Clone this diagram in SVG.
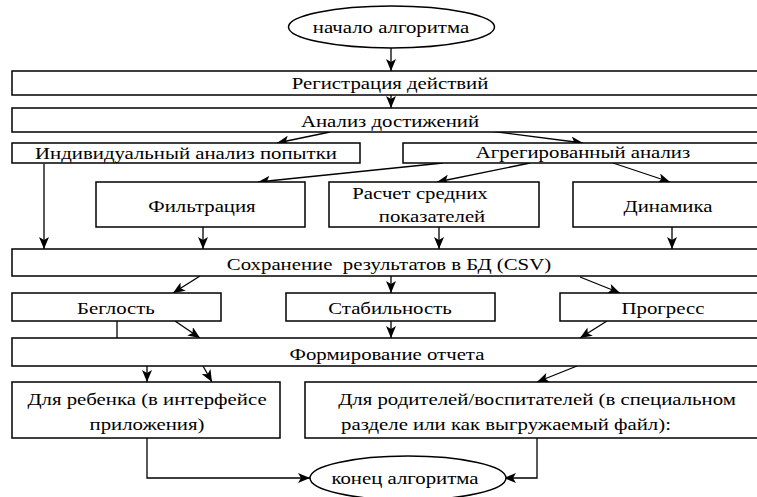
<svg xmlns="http://www.w3.org/2000/svg" width="757" height="497" viewBox="0 0 757 497">
<defs>
<marker id="ah" viewBox="0 0 12 10" refX="12" refY="5" markerWidth="12" markerHeight="10" markerUnits="userSpaceOnUse" orient="auto">
<path d="M0,0 L12,5 L0,10 L3,5 Z" fill="#000"/>
</marker>
<style>
rect, ellipse { fill: #fff; stroke: #000; stroke-width: 1.5; }
text { fill: #000; text-anchor: middle; }
.c { fill: none; stroke: #000; stroke-width: 1.3; }
.a { marker-end: url(#ah); }
</style>
</defs>
<rect x="0" y="0" width="757" height="497" style="fill:#fff;stroke:none"/>
<g id="connectors">
<line class="c a" x1="391" y1="48" x2="391" y2="71"/>
<line class="c a" x1="391" y1="95" x2="391" y2="108"/>
<line class="c a" x1="330" y1="132" x2="277" y2="143"/>
<line class="c a" x1="490" y1="131" x2="583" y2="143"/>
<line class="c a" x1="44" y1="164" x2="44" y2="249"/>
<line class="c a" x1="443" y1="163" x2="258" y2="182"/>
<line class="c a" x1="530" y1="163" x2="437" y2="182"/>
<line class="c a" x1="613" y1="163" x2="670" y2="182"/>
<line class="c a" x1="203" y1="227" x2="203" y2="249"/>
<line class="c a" x1="439" y1="227" x2="439" y2="249"/>
<line class="c a" x1="672" y1="227" x2="672" y2="249"/>
<line class="c a" x1="200" y1="276" x2="173" y2="293"/>
<line class="c a" x1="391" y1="276" x2="391" y2="293"/>
<line class="c a" x1="580" y1="277" x2="620" y2="293"/>
<line class="c" x1="117" y1="321" x2="117" y2="338"/>
<line class="c a" x1="175" y1="321" x2="200" y2="338"/>
<line class="c a" x1="391" y1="321" x2="391" y2="338"/>
<line class="c a" x1="607" y1="321" x2="580" y2="338"/>
<line class="c a" x1="147" y1="366" x2="147" y2="382"/>
<line class="c a" x1="203" y1="366" x2="212" y2="382"/>
<line class="c a" x1="577" y1="366" x2="537" y2="382"/>
<polyline class="c a" points="147,438 147,478 310,478"/>
<polyline class="c a" points="537,438 537,478 504,478"/>
</g>
<g id="start"><ellipse cx="391.5" cy="27" rx="103" ry="21"/><text font-family="Liberation Serif" font-size="16" transform="scale(1.3,1)" x="300.77" y="33">начало алгоритма</text></g>
<g id="reg"><rect x="12" y="71" width="760" height="24"/><text font-family="Liberation Serif" font-size="16" transform="scale(1.3,1)" x="300" y="89">Регистрация действий</text></g>
<g id="analiz"><rect x="12" y="108" width="760" height="24"/><text font-family="Liberation Serif" font-size="16" transform="scale(1.3,1)" x="300" y="127">Анализ достижений</text></g>
<g id="individ"><rect x="12" y="143" width="348" height="20"/><text font-family="Liberation Serif" font-size="16" transform="scale(1.3,1)" x="143.08" y="159">Индивидуальный анализ попытки</text></g>
<g id="agreg"><rect x="403" y="143" width="370" height="20"/><text font-family="Liberation Serif" font-size="16" transform="scale(1.3,1)" x="448.46" y="158">Агрегированный анализ</text></g>
<g id="filtr"><rect x="96" y="182" width="209" height="45"/><text font-family="Liberation Serif" font-size="16" transform="scale(1.3,1)" x="155.38" y="212">Фильтрация</text></g>
<g id="raschet"><rect x="329" y="182" width="210" height="45"/><text font-family="Liberation Serif" font-size="16" transform="scale(1.3,1)" x="323.08" y="199">Расчет средних</text><text font-family="Liberation Serif" font-size="16" transform="scale(1.3,1)" x="332.31" y="222">показателей</text></g>
<g id="dinamika"><rect x="573" y="182" width="200" height="45"/><text font-family="Liberation Serif" font-size="16" transform="scale(1.3,1)" x="513.85" y="212">Динамика</text></g>
<g id="save"><rect x="12" y="249" width="760" height="27"/><text font-family="Liberation Serif" font-size="16" transform="scale(1.3,1)" x="299.23" y="270" xml:space="preserve">Сохранение  результатов в БД (CSV)</text></g>
<g id="beglost"><rect x="12" y="293" width="209" height="28"/><text font-family="Liberation Serif" font-size="16" transform="scale(1.3,1)" x="89.23" y="314">Беглость</text></g>
<g id="stabil"><rect x="286" y="293" width="209" height="28"/><text font-family="Liberation Serif" font-size="16" transform="scale(1.3,1)" x="300" y="314">Стабильность</text></g>
<g id="progress"><rect x="560" y="293" width="213" height="28"/><text font-family="Liberation Serif" font-size="16" transform="scale(1.3,1)" x="510" y="314">Прогресс</text></g>
<g id="otchet"><rect x="12" y="338" width="760" height="28"/><text font-family="Liberation Serif" font-size="16" transform="scale(1.3,1)" x="297.69" y="360">Формирование отчета</text></g>
<g id="rebenok"><rect x="12" y="382" width="268" height="56"/><text font-family="Liberation Serif" font-size="16" transform="scale(1.3,1)" x="113.08" y="405">Для ребенка (в интерфейсе</text><text font-family="Liberation Serif" font-size="16" transform="scale(1.3,1)" x="113.08" y="430">приложения)</text></g>
<g id="roditeli"><rect x="305" y="382" width="468" height="56"/><text font-family="Liberation Serif" font-size="16" transform="scale(1.3,1)" x="413.08" y="405">Для родителей/воспитателей (в специальном</text><text font-family="Liberation Serif" font-size="16" transform="scale(1.3,1)" x="389.23" y="430">разделе или как выгружаемый файл):</text></g>
<g id="end"><ellipse cx="408" cy="478" rx="98" ry="22"/><text font-family="Liberation Serif" font-size="16" transform="scale(1.3,1)" x="311.54" y="484">конец алгоритма</text></g>
</svg>
